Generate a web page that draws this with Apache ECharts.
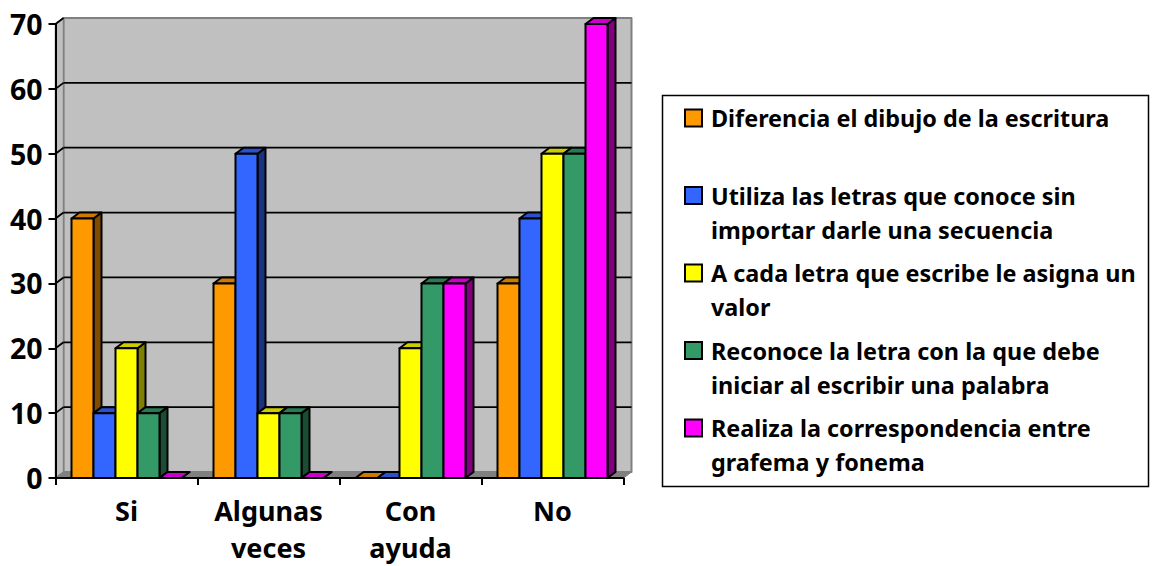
<!DOCTYPE html>
<html>
<head>
<meta charset="utf-8">
<style>
  html, body { margin: 0; padding: 0; background: #fff; }
  #chart { width: 1154px; height: 566px; }
</style>
<script src="https://cdn.jsdelivr.net/npm/echarts@6/dist/echarts.min.js"></script>
</head>
<body>
<div id="chart"></div>
<script>
(function() {
  var categories = ['Si', 'Algunas\nveces', 'Con\nayuda', 'No'];
  var yTicks = [0, 10, 20, 30, 40, 50, 60, 70];

  var names = [
    'Diferencia el dibujo de la escritura',
    'Utiliza las letras que conoce sin importar darle una secuencia',
    'A cada letra que escribe le asigna un valor',
    'Reconoce la letra con la que debe iniciar al escribir una palabra',
    'Realiza la correspondencia entre grafema y fonema'
  ];
  // leading blank line keeps the symbol level with the first line of text
  var legendLines = [
    ' \nDiferencia el dibujo de la escritura\n ',
    ' \nUtiliza las letras que conoce sin\nimportar darle una secuencia',
    ' \nA cada letra que escribe le asigna un\nvalor',
    ' \nReconoce la letra con la que debe\niniciar al escribir una palabra',
    ' \nRealiza la correspondencia entre\ngrafema y fonema'
  ];

  var diferencia = [40, 30, 0, 30];
  var utiliza = [10, 50, 0, 40];
  var asigna = [20, 10, 20, 50];
  var reconoce = [10, 10, 30, 50];
  var correspondencia = [0, 0, 30, 70];
  var values = [diferencia, utiliza, asigna, reconoce, correspondencia];

  var front = ['#FF9900', '#3366FF', '#FFFF00', '#339966', '#FF00FF'];
  var side = ['#804D00', '#1A3380', '#808000', '#1A4D33', '#800080'];
  var top_ = ['#CC7A00', '#2952CC', '#CCCC00', '#297A52', '#CC00CC'];

  // depth of the fake 3d box, in pixels
  var dx = 8, dy = 6;

  var font = '"Noto Sans", sans-serif';
  var chart = echarts.init(document.getElementById('chart'), null, { renderer: 'svg' });

  function poly(points, fill, stroke, w) {
    return { type: 'polygon', shape: { points: points }, style: { fill: fill, stroke: stroke, lineWidth: w, lineJoin: 'round' } };
  }

  function renderWall(params, api) {
    var g = params.coordSys;
    var y = api.coord([0, api.value(1)])[1];
    var x0 = g.x, x1 = g.x + g.width;
    var kids = [];
    if (params.dataIndex === 0) {
      var yb = g.y + g.height, yt = g.y;
      kids.push(poly([[x0 + dx, yb - dy], [x1 + dx, yb - dy], [x1 + dx, yt - dy], [x0 + dx, yt - dy]], '#C0C0C0', '#808080', 2));
      kids.push(poly([[x0, yb], [x0 + dx, yb - dy], [x0 + dx, yt - dy], [x0, yt]], '#C0C0C0', '#808080', 1.5));
      kids.push(poly([[x0, yb], [x1, yb], [x1 + dx, yb - dy], [x0 + dx, yb - dy]], '#808080', '#808080', 1));
    } else {
      var line = { stroke: '#000', lineWidth: 1.8 };
      kids.push({ type: 'line', shape: { x1: x0, y1: y, x2: x0 + dx, y2: y - dy }, style: line });
      if (y - dy > g.y - dy + 1) {
        kids.push({ type: 'line', shape: { x1: x0 + dx, y1: y - dy, x2: x1 + dx, y2: y - dy }, style: line });
      }
    }
    return { type: 'group', children: kids };
  }

  function renderBar(idx) {
    return function(params, api) {
      var cat = api.value(0);
      var base = api.coord([cat, 0]);
      var tip = api.coord([cat, api.value(1)]);
      var w = api.size([1, 0])[0] * 22 / 142;
      var l = base[0] - 2.5 * w + idx * w;
      var r = l + w;
      return {
        type: 'group',
        children: [
          poly([[r, base[1]], [r + dx, base[1] - dy], [r + dx, tip[1] - dy], [r, tip[1]]], side[idx], '#000', 2),
          poly([[l, tip[1]], [r, tip[1]], [r + dx, tip[1] - dy], [l + dx, tip[1] - dy]], top_[idx], '#000', 2),
          poly([[l, base[1]], [r, base[1]], [r, tip[1]], [l, tip[1]]], front[idx], '#000', 2)
        ]
      };
    };
  }

  var series = [{
    type: 'custom',
    silent: true,
    z: 1,
    clip: false,
    renderItem: renderWall,
    encode: { x: 0, y: 1 },
    data: yTicks.map(function(t) { return [0, t]; })
  }];
  values.forEach(function(vals, i) {
    series.push({
      name: names[i],
      type: 'custom',
      z: 2,
      clip: false,
      renderItem: renderBar(i),
      encode: { x: 0, y: 1 },
      itemStyle: { color: front[i] },
      data: vals.map(function(v, c) { return [c, v]; })
    });
  });

  chart.setOption({
    animation: false,
    graphic: [{
      type: 'rect',
      shape: { x: 662.5, y: 95.5, width: 486, height: 391 },
      style: { fill: '#fff', stroke: '#000', lineWidth: 1.5 },
      silent: true
    }],
    legend: {
      orient: 'vertical',
      left: 684,
      top: 67,
      padding: 0,
      itemWidth: 17,
      itemHeight: 17,
      itemGap: -24.5,
      icon: 'rect',
      selectedMode: false,
      itemStyle: { borderColor: '#000', borderWidth: 2 },
      data: names.map(function(n) { return { name: n, icon: 'rect' }; }),
      formatter: function(name) { return legendLines[names.indexOf(name)]; },
      textStyle: {
        color: '#000',
        fontFamily: font,
        fontWeight: 'bold',
        fontSize: 23.4,
        lineHeight: 34,
        padding: [0, 0, 0, 4]
      }
    },
    grid: { left: 55.5, right: 530.5, top: 24, bottom: 88, outerBoundsMode: 'none' },
    xAxis: {
      type: 'category',
      data: categories,
      z: 5,
      axisLine: { lineStyle: { color: '#000', width: 2 } },
      axisTick: { show: true, length: 7, lineStyle: { color: '#000', width: 2 } },
      axisLabel: {
        interval: 0,
        color: '#000',
        fontFamily: font,
        fontWeight: 'bold',
        fontSize: 27,
        lineHeight: 37,
        margin: 13.5
      }
    },
    yAxis: {
      type: 'value',
      min: 0,
      max: 70,
      interval: 10,
      z: 5,
      splitLine: { show: false },
      axisLine: { show: true, lineStyle: { color: '#000', width: 2 } },
      axisTick: { show: true, length: 7, lineStyle: { color: '#000', width: 2 } },
      axisLabel: {
        color: '#000',
        fontFamily: font,
        fontWeight: 'bold',
        fontSize: 28.5,
        margin: 13
      }
    },
    series: series
  });
  window.addEventListener('resize', function() { chart.resize(); });
})();
</script>
</body>
</html>
